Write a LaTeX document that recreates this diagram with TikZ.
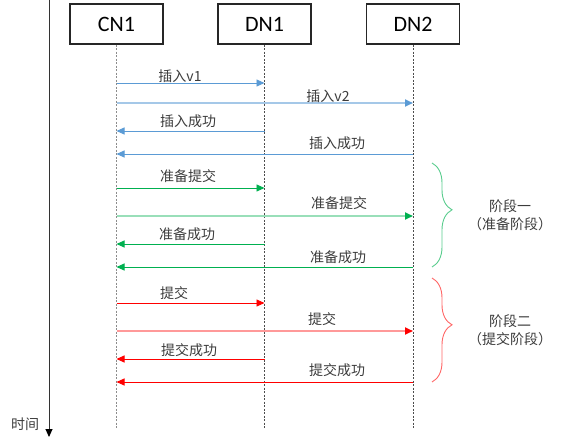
\documentclass[tikz,border=0pt]{standalone}
\usepackage{fontspec}
\setmainfont{Carlito}
\newfontfamily\cjk{Noto Sans CJK SC}
\usetikzlibrary{positioning, arrows.meta, decorations.pathreplacing}
\definecolor{msgBlue}{RGB}{91, 155, 213}
\definecolor{msgGreen}{RGB}{0, 176, 80}
\definecolor{msgRed}{RGB}{255, 0, 0}
\definecolor{txtGray}{RGB}{60, 60, 60}

\begin{document}
\begin{tikzpicture}[
    x=1pt, y=-1pt,
    party/.style={rectangle, draw=black!85, line width=1.2pt,
                  minimum width=93pt, minimum height=40pt,
                  font=\fontsize{22}{26}\selectfont},
    lifeline/.style={black!70, line width=0.6pt, dash pattern=on 2pt off 1.5pt},
    lbl/.style={text=txtGray, font=\cjk\fontsize{14}{16}\selectfont, inner sep=0pt},
    msg/.style={line width=0.9pt, -{Triangle[length=8pt, width=7pt]}},
    msgB/.style={msg, msgBlue},
    msgBl/.style={msg, line width=1.8pt, msgBlue!55, -{Triangle[length=8pt, width=7pt, color=msgBlue]}},
    msgG/.style={msg, msgGreen},
    msgGl/.style={msg, line width=1.8pt, msgGreen!40, -{Triangle[length=8pt, width=7pt, color=msgGreen]}},
    msgR/.style={msg, msgRed},
    msgRl/.style={msg, line width=1.8pt, msgRed!40, -{Triangle[length=8pt, width=7pt, color=msgRed]}},
    phase/.style={decorate, decoration={brace, amplitude=20pt, aspect=0.45}, line width=0.9pt},
  ]
    \useasboundingbox (0,0) rectangle (567,447);

    % time axis
    \coordinate (T0) at (49,0);
    \coordinate (T1) at (49,437);
    \draw[black!80, line width=0.9pt, -{Triangle[length=8pt, width=7pt, color=black]}] (T0) -- (T1);
    \node[lbl] (TIME) at (25,424) {时间};

    % parties and lifelines
    \node[party] (CN1) at (116.5,24) {CN1};
    \node[party] (DN1) at (264.5,24) {DN1};
    \node[party] (DN2) at (413,24) {DN2};
    \coordinate (CN1end) at (CN1.south |- 0,428);
    \coordinate (DN1end) at (DN1.south |- 0,428);
    \coordinate (DN2end) at (DN2.south |- 0,428);
    \draw[lifeline, black!45] (CN1.south) -- (CN1end);
    \draw[lifeline] (DN1.south) -- (DN1end);
    \draw[lifeline] (DN2.south) -- (DN2end);

    % insert
    \draw[msgB] (CN1 |- 0,83) -- (DN1 |- 0,83);
    \node[lbl] (INS1) at (180,76) {插入v1};
    \draw[msgBl] (CN1 |- 0,103) -- (DN2 |- 0,103);
    \node[lbl] (INS2) at (328,96) {插入v2};
    \draw[msgB] (DN1 |- 0,131) -- (CN1 |- 0,131);
    \node[lbl] (INSOK1) at (188,121) {插入成功};
    \draw[msgB] (DN2 |- 0,154) -- (CN1 |- 0,154);
    \node[lbl] (INSOK2) at (337,143) {插入成功};

    % phase one: prepare
    \draw[msgG] (CN1 |- 0,188) -- (DN1 |- 0,188);
    \node[lbl] (PRE1) at (188,176) {准备提交};
    \draw[msgGl] (CN1 |- 0,216) -- (DN2 |- 0,216);
    \node[lbl] (PRE2) at (339,203) {准备提交};
    \draw[msgG] (DN1 |- 0,244) -- (CN1 |- 0,244);
    \node[lbl] (PREOK1) at (187,234) {准备成功};
    \draw[msgG] (DN2 |- 0,267) -- (CN1 |- 0,267);
    \node[lbl] (PREOK2) at (338,257) {准备成功};

    % phase two: commit
    \draw[msgR] (CN1 |- 0,303) -- (DN1 |- 0,303);
    \node[lbl] (COM1) at (174,293) {提交};
    \draw[msgRl] (CN1 |- 0,331) -- (DN2 |- 0,331);
    \node[lbl] (COM2) at (322,319) {提交};
    \draw[msgR] (DN1 |- 0,359) -- (CN1 |- 0,359);
    \node[lbl] (COMOK1) at (189,350) {提交成功};
    \draw[msgR] (DN2 |- 0,382) -- (CN1 |- 0,382);
    \node[lbl] (COMOK2) at (337,370) {提交成功};

    % phase braces
    \coordinate (P1top) at (432,163);
    \coordinate (P1bot) at (432,267);
    \draw[phase, msgGreen!65] (P1top) -- (P1bot);
    \node[lbl, align=center, font=\cjk\fontsize{14}{18}\selectfont] (PH1) at (510,215) {阶段一\\（准备阶段）};
    \coordinate (P2top) at (432,278);
    \coordinate (P2bot) at (432,382);
    \draw[phase, msgRed!60] (P2top) -- (P2bot);
    \node[lbl, align=center, font=\cjk\fontsize{14}{18}\selectfont] (PH2) at (510,330) {阶段二\\（提交阶段）};
  \end{tikzpicture}
\end{document}
